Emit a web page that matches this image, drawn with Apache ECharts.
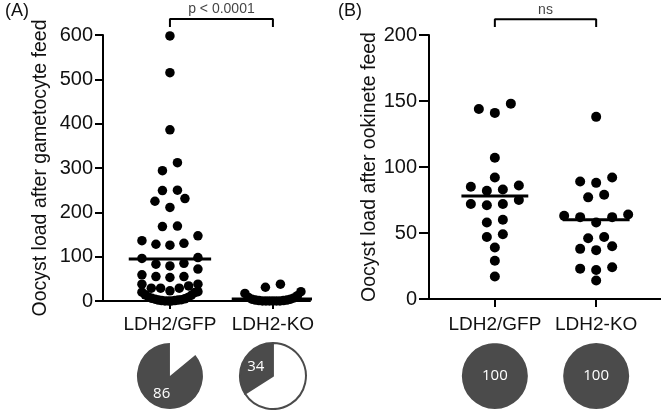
<!DOCTYPE html>
<html>
<head>
<meta charset="utf-8">
<script src="https://cdn.jsdelivr.net/npm/echarts@6/dist/echarts.min.js"></script>
<style>
html,body{margin:0;padding:0;background:#fff;}
#chart{width:661px;height:410px;}
</style>
</head>
<body>
<div id="chart"></div>
<script>
// groups on both x axes
const groups = ['LDH2/GFP', 'LDH2-KO'];

// (A) oocyst load after gametocyte feed
const gametGFP = [598, 515, 386, 312, 294, 250, 249, 231, 225, 211, 169, 168, 147, 136, 130, 128, 126,
  98, 96, 85, 83, 79, 72, 59, 55, 55, 53, 38, 38, 34, 29, 29, 29, 23,
  21, 20, 19, 14, 13, 9, 8, 6, 5, 4, 3, 2, 2, 1, 1, 0, 0, 0];
const gametKO = [38, 31, 21, 17, 12, 8, 7, 4, 4, 2, 2, 1, 1, 0, 0, 0, 0, 0, 0];
const gametMeans = [95, 4.5];
const gametTicks = [0, 100, 200, 300, 400, 500, 600];

// (B) oocyst load after ookinete feed
const ookGFP = [148, 144, 141, 107, 92, 86, 85, 83, 82, 75, 72, 72, 71, 60, 58, 49, 47, 39, 29, 17];
const ookKO = [138, 92, 89, 88, 79, 77, 64, 63, 62, 62, 58, 47, 46, 40, 38, 37, 24, 23, 22, 14];
const ookMeans = [78, 60];
const ookTicks = [0, 50, 100, 150, 200];

// stats + prevalence (%) pies
const pvalues = ['p < 0.0001', 'ns'];
const prevalence = [86, 34, 100, 100];

const DARK = '#4b4b4b';
const FONT = 'Liberation Sans';
const chart = echarts.init(document.getElementById('chart'));

function xAxis(grid, max) {
  return {
    type: 'value', gridIndex: grid, min: 0.35, max: max,
    axisLine: {show: true, onZero: false, lineStyle: {color: '#000', width: 2}},
    axisTick: {show: true, customValues: [1, 2], length: 8, lineStyle: {color: '#000', width: 2}},
    axisLabel: {show: true, customValues: [1, 2], formatter: v => groups[v - 1],
      margin: grid ? 16 : 14, fontSize: 19, color: '#111', fontFamily: FONT},
    splitLine: {show: false}
  };
}
function yAxis(grid, ticks, name, gap, tick) {
  return {
    type: 'value', gridIndex: grid, min: ticks[0], max: ticks[ticks.length - 1],
    interval: ticks[1] - ticks[0],
    name: name, nameLocation: 'middle', nameGap: gap,
    nameTextStyle: {fontSize: 19.5, color: '#111', fontFamily: FONT},
    axisLine: {show: true, lineStyle: {color: '#000', width: 2}},
    axisTick: {show: true, length: tick, lineStyle: {color: '#000', width: 2}},
    axisLabel: {fontSize: 20, color: '#111', fontFamily: FONT, margin: tick + 2},
    splitLine: {show: false}
  };
}

chart.setOption({
  animation: false,
  title: [
    {text: '(A)', left: 0, top: -3, textStyle: {fontSize: 18, fontWeight: 'normal', color: '#111', fontFamily: FONT}},
    {text: '(B)', left: 333, top: -3, textStyle: {fontSize: 18, fontWeight: 'normal', color: '#111', fontFamily: FONT}}
  ],
  grid: [
    {left: 103, top: 35, right: 351, bottom: 109, containLabel: false, outerBoundsMode: 'none'},
    {left: 429, top: 35, right: 0, bottom: 111, containLabel: false, outerBoundsMode: 'none'}
  ],
  xAxis: [xAxis(0, 2.36), xAxis(1, 2.64)],
  yAxis: [
    yAxis(0, gametTicks, 'Oocyst load after gametocyte feed', 52, 8),
    yAxis(1, ookTicks, 'Oocyst load after ookinete feed', 48, 10)
  ]
});

// GraphPad-like swarm: rows of close values, spread sideways around the group centre
function swarm(values, grid, cat, rowPx, stepPx, halfPx) {
  const o = chart.convertToPixel({gridIndex: grid}, [cat, 0]);
  const unitX = chart.convertToPixel({gridIndex: grid}, [cat + 1, 0])[0] - o[0];
  const sorted = values.slice().sort((a, b) => a - b);
  const rows = [];
  let row = null, start = 0;
  sorted.forEach(v => {
    const y = chart.convertToPixel({gridIndex: grid}, [cat, v])[1];
    if (!row || start - y >= rowPx) { row = []; rows.push(row); start = y; }
    row.push(v);
  });
  const pts = [];
  rows.forEach(r => {
    const n = r.length;
    const step = n > 1 ? Math.min(stepPx, 2 * halfPx / (n - 1)) : 0;
    const slots = r.map((_, i) => (i - (n - 1) / 2) * step)
      .sort((a, b) => Math.abs(a) - Math.abs(b) || a - b);
    r.forEach((v, i) => pts.push([cat + slots[i] / unitX, v]));
  });
  return pts;
}

const series = [];
function dots(grid, vals, cat, size, step, half) {
  series.push({type: 'scatter', xAxisIndex: grid, yAxisIndex: grid, symbolSize: size,
    itemStyle: {color: '#000', opacity: 1}, silent: true,
    data: swarm(vals, grid, cat, 10, step, half)});
}
dots(0, gametGFP, 1, 9.5, 15, 28);
dots(0, gametKO, 2, 9.5, 15, 28);
dots(1, ookGFP, 1, 10, 16, 32);
dots(1, ookKO, 2, 10, 16, 32);

function mean(grid, m, cat, half) {
  series.push({type: 'line', xAxisIndex: grid, yAxisIndex: grid, symbol: 'none', silent: true, z: 5,
    lineStyle: {color: '#000', width: 3}, data: [[cat - half, m], [cat + half, m]]});
}
mean(0, gametMeans[0], 1, 0.4); mean(0, gametMeans[1], 2, 0.4);
mean(1, ookMeans[0], 1, 0.33); mean(1, ookMeans[1], 2, 0.33);

function bracket(grid, max, text) {
  const top = max * 1.06, end = max * 1.03;
  series.push({type: 'line', xAxisIndex: grid, yAxisIndex: grid, symbol: 'none', silent: true, clip: false,
    lineStyle: {color: '#000', width: 2}, data: [[1, end], [1, top], [2, top], [2, end]]});
  series.push({type: 'scatter', xAxisIndex: grid, yAxisIndex: grid, symbol: 'circle', symbolSize: 1,
    clip: false, silent: true, itemStyle: {color: 'rgba(0,0,0,0)'},
    label: {show: true, position: 'top', distance: 2, formatter: text, fontSize: 14, color: '#111', fontFamily: FONT},
    data: [[1.5, top]]});
}
bracket(0, gametTicks[gametTicks.length - 1], pvalues[0]);
bracket(1, ookTicks[ookTicks.length - 1], pvalues[1]);

// prevalence pies under each group
const pieLabel = {show: true, color: '#fff', fontSize: 15, fontFamily: 'Open Sans'};
prevalence.forEach((p, i) => {
  const grid = i < 2 ? 0 : 1;
  const cx = chart.convertToPixel({gridIndex: grid}, [1 + (i % 2), 0])[0];
  const infected = {value: p, itemStyle: {color: DARK},
    label: Object.assign({}, pieLabel, {position: p === 100 ? 'center' : 'inside', formatter: String(p)})};
  const rest = {value: 100 - p, itemStyle: {color: '#fff'}, label: {show: false}};
  const bordered = p < 50;
  series.push({
    type: 'pie', center: [cx, 376], radius: 33, silent: true,
    startAngle: 90, clockwise: bordered ? false : true,
    itemStyle: {borderColor: DARK, borderWidth: bordered ? 2 : 0},
    labelLine: {show: false},
    data: p === 100 ? [infected] : (bordered ? [infected, rest] : [rest, infected])
  });
});

chart.setOption({series: series});
</script>
</body>
</html>
